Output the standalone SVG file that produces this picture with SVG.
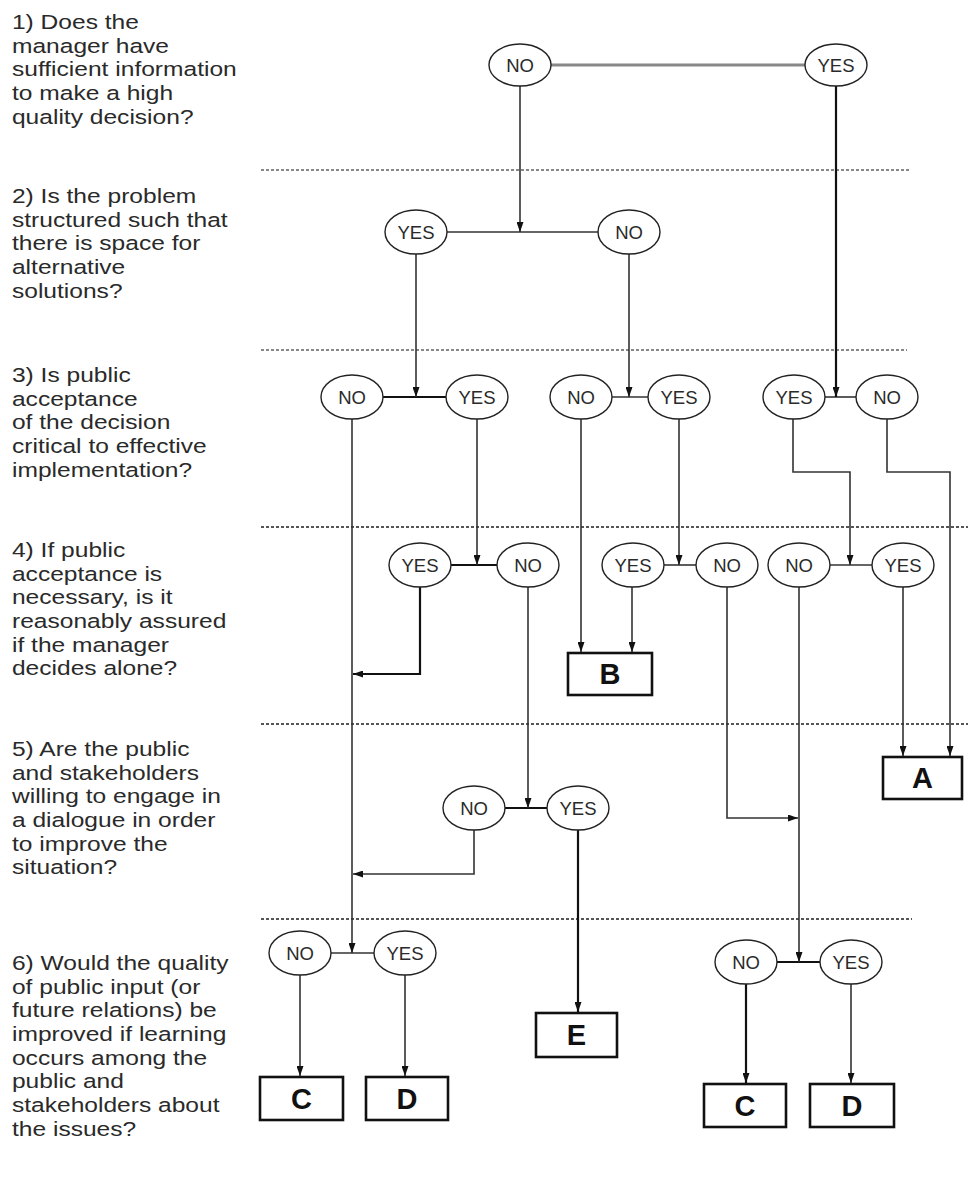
<svg xmlns="http://www.w3.org/2000/svg" width="968" height="1186" viewBox="0 0 968 1186">
<style>
.q{font-family:"Liberation Sans",Arial,sans-serif;font-size:19.5px;fill:#2a2a2a}
.sep{stroke:#555;stroke-width:2;stroke-dasharray:3 2;fill:none}
.sepl{stroke:#888;stroke-width:2;stroke-dasharray:3 2;fill:none}
.el{fill:#fff;stroke:#222;stroke-width:1.4}
.lb{font-family:"Liberation Sans",Arial,sans-serif;font-size:18.5px;fill:#2a2a2a;text-anchor:middle}
.bx{fill:#fff;stroke:#111;stroke-width:2.6}
.bl{font-family:"Liberation Sans",Arial,sans-serif;font-size:29px;font-weight:bold;fill:#111;text-anchor:middle}
.c{fill:none;stroke:#333;stroke-width:1.6}
.ca{fill:none;stroke:#333;stroke-width:1.6;marker-end:url(#ah)}
.ck{fill:none;stroke:#111;stroke-width:2.2;marker-end:url(#ah)}
</style>
<defs>
<marker id="ah" viewBox="0 0 10 7" markerWidth="10" markerHeight="7" refX="10" refY="3.5" orient="auto" markerUnits="userSpaceOnUse">
<path d="M0,0 L10,3.5 L0,7 z" fill="#111"/>
</marker>
</defs>
<rect width="968" height="1186" fill="#fff"/>

<g id="questions" transform="scale(1.26,1)">
<text class="q" x="9.5" y="29"><tspan x="9.5">1) Does the</tspan><tspan x="9.5" dy="23.7">manager have</tspan><tspan x="9.5" dy="23.7">sufficient information</tspan><tspan x="9.5" dy="23.7">to make a high</tspan><tspan x="9.5" dy="23.7">quality decision?</tspan></text>
<text class="q" x="9.5" y="203"><tspan x="9.5">2) Is the problem</tspan><tspan x="9.5" dy="23.7">structured such that</tspan><tspan x="9.5" dy="23.7">there is space for</tspan><tspan x="9.5" dy="23.7">alternative</tspan><tspan x="9.5" dy="23.7">solutions?</tspan></text>
<text class="q" x="9.5" y="382"><tspan x="9.5">3) Is public</tspan><tspan x="9.5" dy="23.7">acceptance</tspan><tspan x="9.5" dy="23.7">of the decision</tspan><tspan x="9.5" dy="23.7">critical to effective</tspan><tspan x="9.5" dy="23.7">implementation?</tspan></text>
<text class="q" x="9.5" y="557"><tspan x="9.5">4) If public</tspan><tspan x="9.5" dy="23.7">acceptance is</tspan><tspan x="9.5" dy="23.7">necessary, is it</tspan><tspan x="9.5" dy="23.7">reasonably assured</tspan><tspan x="9.5" dy="23.7">if the manager</tspan><tspan x="9.5" dy="23.7">decides alone?</tspan></text>
<text class="q" x="9.5" y="756"><tspan x="9.5">5) Are the public</tspan><tspan x="9.5" dy="23.7">and stakeholders</tspan><tspan x="9.5" dy="23.7">willing to engage in</tspan><tspan x="9.5" dy="23.7">a dialogue in order</tspan><tspan x="9.5" dy="23.7">to improve the</tspan><tspan x="9.5" dy="23.7">situation?</tspan></text>
<text class="q" x="9.5" y="970"><tspan x="9.5">6) Would the quality</tspan><tspan x="9.5" dy="23.7">of public input (or</tspan><tspan x="9.5" dy="23.7">future relations) be</tspan><tspan x="9.5" dy="23.7">improved if learning</tspan><tspan x="9.5" dy="23.7">occurs among the</tspan><tspan x="9.5" dy="23.7">public and</tspan><tspan x="9.5" dy="23.7">stakeholders about</tspan><tspan x="9.5" dy="23.7">the issues?</tspan></text>
</g>

<g id="separators">
<line class="sepl" x1="261" y1="170" x2="909" y2="170"/>
<line class="sepl" x1="261" y1="350" x2="907" y2="350"/>
<line class="sep" x1="261" y1="527" x2="968" y2="527"/>
<line class="sep" x1="261" y1="724" x2="968" y2="724"/>
<line class="sep" x1="261" y1="919" x2="912" y2="919"/>
</g>

<g id="connectors">
<path d="M551,65 H805" fill="none" stroke="#888" stroke-width="3.2"/>
<path class="c" d="M447,232 H598"/>
<path fill="none" stroke="#111" stroke-width="2.2" d="M383,397 H446"/>
<path class="c" d="M612,397 H648"/>
<path class="c" d="M825,397 H856"/>
<path fill="none" stroke="#111" stroke-width="2.2" d="M451,565 H497"/>
<path class="c" d="M664,565 H696"/>
<path class="c" d="M830,565 H872"/>
<path fill="none" stroke="#111" stroke-width="2.2" d="M505,808 H547"/>
<path class="c" d="M331,953 H374"/>
<path fill="none" stroke="#111" stroke-width="2.2" d="M777,962 H820"/>

<path class="ca" d="M520,86 V232"/>
<path class="ck" d="M836,86 V397"/>
<path class="ca" d="M416,254 V397"/>
<path class="ca" d="M629,254 V397"/>
<path class="ca" d="M352,419 V953"/>
<path class="ca" d="M477,419 V565"/>
<path class="ca" d="M581,419 V652"/>
<path class="ca" d="M679,419 V565"/>
<path class="ca" d="M793,419 V472 H850 V565"/>
<path class="ca" d="M887,419 V472 H950 V756"/>
<path class="ck" d="M420,587 V674 H353"/>
<path class="ca" d="M528,587 V808"/>
<path class="ca" d="M632,587 V652"/>
<path class="ca" d="M727,587 V818 H798"/>
<path class="ca" d="M799,587 V962"/>
<path class="ca" d="M903,587 V756"/>
<path class="ca" d="M474,830 V874 H353"/>
<path class="ck" d="M578,830 V1012"/>
<path class="ca" d="M300,975 V1076"/>
<path class="ca" d="M405,975 V1076"/>
<path class="ck" d="M746,984 V1083"/>
<path class="ca" d="M851,984 V1083"/>
</g>

<g id="q1-no"><ellipse class="el" cx="520" cy="65" rx="31" ry="21"/><text class="lb" x="520" y="72">NO</text></g>
<g id="q1-yes"><ellipse class="el" cx="836" cy="65" rx="31" ry="21"/><text class="lb" x="836" y="72">YES</text></g>

<g id="q2-yes"><ellipse class="el" cx="416" cy="232" rx="31" ry="22"/><text class="lb" x="416" y="239">YES</text></g>
<g id="q2-no"><ellipse class="el" cx="629" cy="232" rx="31" ry="22"/><text class="lb" x="629" y="239">NO</text></g>

<g id="q3a-no"><ellipse class="el" cx="352" cy="397" rx="31" ry="22"/><text class="lb" x="352" y="404">NO</text></g>
<g id="q3a-yes"><ellipse class="el" cx="477" cy="397" rx="31" ry="22"/><text class="lb" x="477" y="404">YES</text></g>
<g id="q3b-no"><ellipse class="el" cx="581" cy="397" rx="31" ry="22"/><text class="lb" x="581" y="404">NO</text></g>
<g id="q3b-yes"><ellipse class="el" cx="679" cy="397" rx="31" ry="22"/><text class="lb" x="679" y="404">YES</text></g>
<g id="q3c-yes"><ellipse class="el" cx="794" cy="397" rx="31" ry="22"/><text class="lb" x="794" y="404">YES</text></g>
<g id="q3c-no"><ellipse class="el" cx="887" cy="397" rx="31" ry="22"/><text class="lb" x="887" y="404">NO</text></g>

<g id="q4a-yes"><ellipse class="el" cx="420" cy="565" rx="31" ry="22"/><text class="lb" x="420" y="572">YES</text></g>
<g id="q4a-no"><ellipse class="el" cx="528" cy="565" rx="31" ry="22"/><text class="lb" x="528" y="572">NO</text></g>
<g id="q4b-yes"><ellipse class="el" cx="633" cy="565" rx="31" ry="22"/><text class="lb" x="633" y="572">YES</text></g>
<g id="q4b-no"><ellipse class="el" cx="727" cy="565" rx="31" ry="22"/><text class="lb" x="727" y="572">NO</text></g>
<g id="q4c-no"><ellipse class="el" cx="799" cy="565" rx="31" ry="22"/><text class="lb" x="799" y="572">NO</text></g>
<g id="q4c-yes"><ellipse class="el" cx="903" cy="565" rx="31" ry="22"/><text class="lb" x="903" y="572">YES</text></g>

<g id="q5-no"><ellipse class="el" cx="474" cy="808" rx="31" ry="22"/><text class="lb" x="474" y="815">NO</text></g>
<g id="q5-yes"><ellipse class="el" cx="578" cy="808" rx="31" ry="22"/><text class="lb" x="578" y="815">YES</text></g>

<g id="q6a-no"><ellipse class="el" cx="300" cy="953" rx="31" ry="22"/><text class="lb" x="300" y="960">NO</text></g>
<g id="q6a-yes"><ellipse class="el" cx="405" cy="953" rx="31" ry="22"/><text class="lb" x="405" y="960">YES</text></g>
<g id="q6b-no"><ellipse class="el" cx="746" cy="962" rx="31" ry="22"/><text class="lb" x="746" y="969">NO</text></g>
<g id="q6b-yes"><ellipse class="el" cx="851" cy="962" rx="31" ry="22"/><text class="lb" x="851" y="969">YES</text></g>

<g id="box-b"><rect class="bx" x="568" y="653" width="84" height="42"/><text class="bl" x="610" y="684">B</text></g>
<g id="box-a"><rect class="bx" x="883" y="757" width="79" height="42"/><text class="bl" x="922.5" y="788">A</text></g>
<g id="box-e"><rect class="bx" x="536" y="1013" width="81" height="44"/><text class="bl" x="576.5" y="1045">E</text></g>
<g id="box-c1"><rect class="bx" x="260" y="1077" width="83" height="43"/><text class="bl" x="301.5" y="1109">C</text></g>
<g id="box-d1"><rect class="bx" x="366" y="1077" width="82" height="43"/><text class="bl" x="407" y="1109">D</text></g>
<g id="box-c2"><rect class="bx" x="704" y="1084" width="82" height="43"/><text class="bl" x="745" y="1116">C</text></g>
<g id="box-d2"><rect class="bx" x="810" y="1084" width="84" height="43"/><text class="bl" x="852" y="1116">D</text></g>
</svg>
